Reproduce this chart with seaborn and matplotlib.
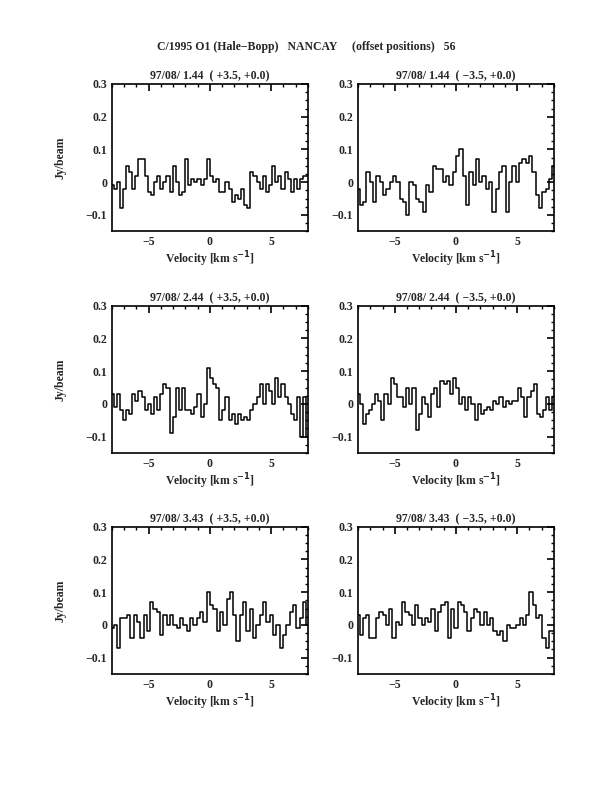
import numpy as np
import pandas as pd
import matplotlib
matplotlib.use("Agg")
import matplotlib.pyplot as plt
import seaborn as sns
from matplotlib.ticker import MultipleLocator

sns.set_theme(style="white")
plt.rcParams['font.family'] = ['Liberation Serif', 'DejaVu Serif']
plt.rcParams['font.weight'] = 'bold'

titles = ["97/08/ 1.44  ( +3.5, +0.0)", "97/08/ 1.44  ( \u22123.5, +0.0)",
          "97/08/ 2.44  ( +3.5, +0.0)", "97/08/ 2.44  ( \u22123.5, +0.0)",
          "97/08/ 3.43  ( +3.5, +0.0)", "97/08/ 3.43  ( \u22123.5, +0.0)"]

s1 = [-0.01,-0.02,0.0,-0.08,-0.02,0.05,0.03,-0.02,0.02,0.07,0.07,0.02,-0.03,-0.04,0.0,0.02,
      -0.02,0.0,0.02,-0.03,0.05,0.0,-0.04,-0.03,0.07,-0.01,0.01,0.0,0.01,-0.01,0.01,0.07,
      0.02,0.0,0.01,-0.03,-0.03,0.0,-0.02,-0.06,-0.04,-0.05,-0.02,-0.07,-0.08,0.03,0.02,0.0,
      -0.02,0.02,-0.03,-0.01,0.05,0.0,0.02,-0.02,0.03,0.01,-0.03,0.01,-0.02,0.01,0.02,0.02]
s2 = [-0.02,-0.07,-0.06,0.03,0.0,-0.06,0.02,0.0,-0.04,-0.02,0.0,0.02,0.0,-0.05,-0.06,-0.1,
      0.0,-0.01,-0.05,-0.06,-0.09,-0.01,-0.03,0.05,0.04,0.04,0.0,0.02,-0.01,0.03,0.08,0.1,
      0.02,-0.07,0.03,-0.01,0.07,0.0,0.02,-0.02,0.0,-0.09,-0.02,0.03,0.05,-0.09,0.0,0.05,
      0.0,0.06,0.07,0.06,0.08,0.03,-0.04,-0.08,-0.03,-0.02,0.01,0.05]
s3 = [0.03,-0.01,0.03,-0.02,-0.05,-0.02,-0.03,0.03,0.01,0.04,0.02,-0.02,0.0,-0.03,0.02,-0.02,
      0.03,0.06,0.05,-0.09,-0.04,0.05,-0.02,0.05,-0.02,-0.02,-0.03,-0.01,0.03,-0.04,0.0,0.11,
      0.08,0.06,0.05,-0.05,-0.02,0.02,-0.05,-0.03,-0.06,-0.03,-0.05,-0.04,-0.05,-0.02,0.0,0.02,
      0.06,0.0,0.06,0.04,0.0,0.08,0.02,0.06,0.02,0.0,-0.03,-0.05,0.02,-0.1,0.02,-0.1]
s4 = [0.03,0.0,-0.06,-0.03,-0.02,0.0,0.03,0.01,-0.05,0.03,0.0,0.08,0.06,0.02,0.02,-0.01,
      0.05,0.0,0.05,-0.08,-0.03,0.02,0.0,-0.04,0.03,0.05,-0.01,0.07,0.06,0.07,0.03,0.08,
      0.05,0.0,0.02,-0.02,0.02,0.0,-0.05,0.0,-0.03,-0.02,-0.01,-0.02,0.01,0.0,0.02,-0.01,
      0.01,0.0,0.01,0.01,0.05,0.02,-0.04,0.02,0.04,0.06,-0.03,-0.04,-0.02,0.02,-0.02,0.02]
s5 = [-0.01,0.0,-0.07,0.02,0.02,0.03,-0.04,0.03,0.01,-0.04,0.03,-0.02,0.07,0.05,0.04,-0.03,
      0.03,0.0,0.03,0.0,-0.01,0.02,0.0,-0.02,0.02,0.0,0.02,0.04,0.01,0.1,0.06,0.05,
      -0.02,0.04,0.0,0.08,0.1,0.03,-0.05,0.03,0.07,-0.02,0.05,-0.04,0.0,0.03,0.07,0.01,
      0.03,-0.03,0.0,-0.07,-0.03,0.0,0.04,0.06,-0.01,0.02,0.07,0.0]
s6 = [0.03,-0.03,0.02,0.03,-0.04,-0.04,0.02,0.04,0.03,0.0,0.05,-0.04,0.01,0.0,0.07,0.04,
      0.03,0.0,0.06,0.02,0.0,0.02,0.01,0.05,-0.02,0.04,0.06,0.07,-0.04,0.05,-0.01,0.07,
      0.06,0.04,-0.02,0.02,0.05,0.04,0.0,0.04,0.0,0.02,-0.02,-0.03,-0.02,-0.05,0.0,-0.01,
      -0.01,0.0,0.02,0.0,0.03,0.1,0.06,0.02,0.03,-0.04,-0.07,-0.02,-0.02]
series = [s1, s2, s3, s4, s5, s6]

fig = plt.figure(figsize=(6.12, 7.92), dpi=100)
lefts = [0.183, 0.585]
bottoms = [0.708, 0.428, 0.149]
fs = 8.5
for i, (s, t) in enumerate(zip(series, titles)):
    r, c = divmod(i, 2)
    ax = fig.add_axes([lefts[c], bottoms[r], 0.320, 0.186])
    v = np.linspace(-8, 8, len(s))
    df = pd.DataFrame({"v": v, "f": s})
    sns.lineplot(data=df, x="v", y="f", ax=ax, color="black", lw=1.1,
                 drawstyle="steps-mid", estimator=None)
    ax.set_xlim(-8, 8)
    ax.set_ylim(-0.15, 0.3)
    ax.set_xticks([-5, 0, 5])
    ax.set_xticklabels(["\u22125", "0", "5"])
    ax.set_yticks([-0.1, 0, 0.1, 0.2, 0.3])
    ax.set_yticklabels(["\u22120.1", "0", "0.1", "0.2", "0.3"])
    ax.xaxis.set_minor_locator(MultipleLocator(1))
    ax.yaxis.set_minor_locator(MultipleLocator(0.025))
    ax.tick_params(which="both", direction="in", top=True, right=True, labelsize=fs, color="black")
    ax.tick_params(which="major", length=5, width=1.2)
    ax.tick_params(which="minor", length=2.5, width=1)
    for sp in ax.spines.values():
        sp.set_color("black"); sp.set_linewidth(1.2)
    ax.set_title(t, fontsize=fs, fontweight="bold", pad=3)
    ax.set_xlabel("Velocity [km s$^{-1}$]", fontsize=fs, fontweight="bold", labelpad=1)
    if c == 0:
        ax.set_ylabel("Jy/beam", fontsize=fs, fontweight="bold", labelpad=14)
    else:
        ax.set_ylabel("")

fig.text(0.5, 0.937, "C/1995 O1 (Hale\u2212Bopp)   NANCAY     (offset positions)   56",
         ha="center", fontsize=fs, fontweight="bold")
fig.savefig("out.png", dpi=100, facecolor="white")
